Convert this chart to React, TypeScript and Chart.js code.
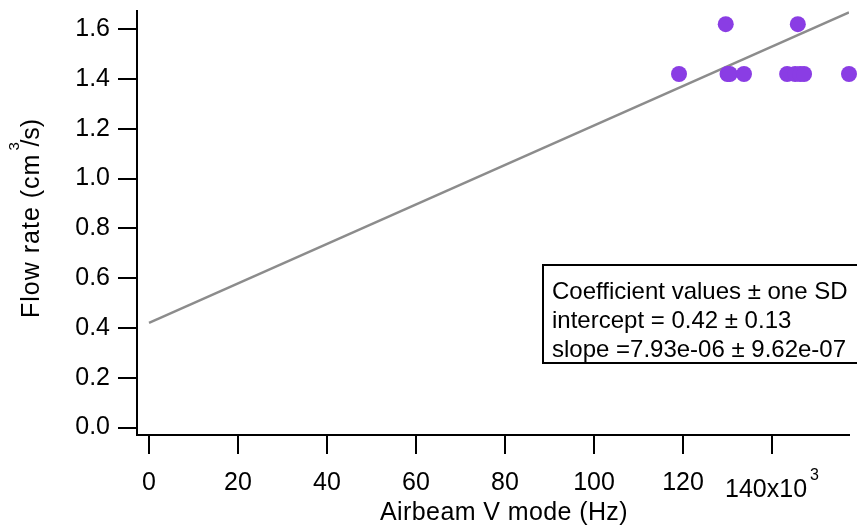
import React, { useEffect, useRef } from 'react';
import { Chart, registerables } from 'chart.js';

Chart.register(...registerables);

// ---- data ----
const xTickValues = [0, 20000, 40000, 60000, 80000, 100000, 120000, 140000];
const yTickValues = [0, 0.2, 0.4, 0.6, 0.8, 1.0, 1.2, 1.4, 1.6];
const freqHz = [119100, 129600, 130000, 130500, 133700, 143400, 145200, 145800, 146300, 147200, 157300];
const flowRate = [1.42, 1.62, 1.42, 1.42, 1.42, 1.42, 1.42, 1.62, 1.42, 1.42, 1.42];
const fitX = [0, 157300];
const fitY = [0.42, 1.667];
const xRange = [-2700, 157300];
const yRange = [-0.03, 1.673];
const xTitle = 'Airbeam V mode (Hz)';
const yTitleParts = ['Flow rate (cm', '3', '/s)'];
const lastTickParts = ['140x10', '3'];
const coefLines = [
  'Coefficient values \u00B1 one SD',
  'intercept = 0.42 \u00B1 0.13',
  'slope =7.93e-06 \u00B1 9.62e-07',
];

const FONT = '"Liberation Sans", Arial, Helvetica, sans-serif';
const PURPLE = '#8a3de4';

const decorPlugin = {
  id: 'decor',
  afterDraw(chart: any) {
    const ctx: any = chart.ctx;
    const area = chart.chartArea;
    const xs = chart.scales.x;
    ctx.save();
    ctx.fillStyle = '#000';
    ctx.textBaseline = 'alphabetic';

    // x-axis title
    ctx.font = `25px ${FONT}`;
    ctx.textAlign = 'center';
    ctx.letterSpacing = '0.4px';
    ctx.fillText(xTitle, (area.left + area.right) / 2 + 11, area.bottom + 85);
    ctx.letterSpacing = '0px';

    // last x tick label "140x10^3"
    const px = xs.getPixelForValue(xTickValues[xTickValues.length - 1]);
    ctx.textAlign = 'left';
    ctx.font = `25px ${FONT}`;
    const w1 = ctx.measureText(lastTickParts[0]).width;
    ctx.font = `16px ${FONT}`;
    const w2 = ctx.measureText(lastTickParts[1]).width;
    const gap = 3;
    const start = px - (w1 + gap + w2) / 2;
    ctx.font = `25px ${FONT}`;
    ctx.fillText(lastTickParts[0], start, area.bottom + 62);
    ctx.font = `16px ${FONT}`;
    ctx.fillText(lastTickParts[1], start + w1 + gap, area.bottom + 45);

    // y-axis title (rotated) with superscript
    ctx.save();
    ctx.translate(39, 318);
    ctx.rotate(-Math.PI / 2);
    ctx.font = `25px ${FONT}`;
    ctx.textAlign = 'left';
    ctx.letterSpacing = '1px';
    const m1 = ctx.measureText(yTitleParts[0]).width;
    ctx.fillText(yTitleParts[0], 0, 0);
    ctx.letterSpacing = '0px';
    ctx.fillText(yTitleParts[2], m1 + 7, 0);
    ctx.font = `15px ${FONT}`;
    ctx.fillText(yTitleParts[1], m1 + 3, -20);
    ctx.restore();

    // coefficient box
    ctx.textBaseline = 'alphabetic';
    ctx.fillStyle = '#fff';
    ctx.fillRect(543, 265, 330, 98);
    ctx.strokeStyle = '#000';
    ctx.lineWidth = 2;
    ctx.strokeRect(543, 265, 330, 98);
    ctx.fillStyle = '#000';
    ctx.font = `24px ${FONT}`;
    ctx.textAlign = 'left';
    coefLines.forEach((t, i) => ctx.fillText(t, 552, 299 + i * 29));
    ctx.restore();
  },
};

export default function App() {
  const ref = useRef<HTMLCanvasElement | null>(null);

  useEffect(() => {
    if (!ref.current) return;
    const chart = new Chart(ref.current, {
      type: 'scatter',
      data: {
        datasets: [
          {
            type: 'line',
            label: 'fit',
            data: fitX.map((x, i) => ({ x, y: fitY[i] })),
            borderColor: '#8c8c8c',
            borderWidth: 2.5,
            pointRadius: 0,
            fill: false,
            order: 2,
          } as any,
          {
            type: 'scatter',
            label: 'Flow rate',
            data: freqHz.map((x, i) => ({ x, y: flowRate[i] })),
            backgroundColor: PURPLE,
            borderColor: PURPLE,
            borderWidth: 0,
            pointRadius: 8,
            clip: false,
            order: 1,
          } as any,
        ],
      },
      options: {
        animation: false,
        responsive: false,
        devicePixelRatio: 1,
        layout: { padding: { left: 0, right: 8, top: 11, bottom: 0 } },
        plugins: { legend: { display: false }, tooltip: { enabled: false } },
        scales: {
          x: {
            type: 'linear',
            min: xRange[0],
            max: xRange[1],
            afterBuildTicks: (s: any) => {
              s.ticks = xTickValues.map((v) => ({ value: v }));
            },
            afterFit: (s: any) => {
              s.height = 90;
              s.paddingLeft = 0;
              s.paddingRight = 0;
            },
            grid: { drawOnChartArea: false, color: '#000', lineWidth: 2, tickLength: 19 },
            border: { display: true, color: '#000', width: 2 },
            ticks: {
              color: '#000',
              font: { family: FONT, size: 25 },
              padding: 14,
              maxRotation: 0,
              autoSkip: false,
              callback: (v: any) => (Number(v) === xTickValues[xTickValues.length - 1] ? '' : String(Number(v) / 1000)),
            },
          },
          y: {
            type: 'linear',
            min: yRange[0],
            max: yRange[1],
            afterBuildTicks: (s: any) => {
              s.ticks = yTickValues.map((v) => ({ value: v }));
            },
            afterFit: (s: any) => {
              s.width = 137;
              s.paddingTop = 0;
              s.paddingBottom = 0;
            },
            grid: { drawOnChartArea: false, color: '#000', lineWidth: 2, tickLength: 19 },
            border: { display: true, color: '#000', width: 2 },
            ticks: {
              color: '#000',
              font: { family: FONT, size: 25 },
              padding: 8,
              autoSkip: false,
              callback: (v: any) => Number(v).toFixed(1),
            },
          },
        },
      },
      plugins: [decorPlugin],
    });
    return () => chart.destroy();
  }, []);

  return (
    <div style={{ position: 'fixed', left: 0, top: 0, width: 857, height: 525, background: '#fff' }}>
      <canvas ref={ref} width={857} height={525} style={{ width: 857, height: 525, display: 'block' }} />
    </div>
  );
}
